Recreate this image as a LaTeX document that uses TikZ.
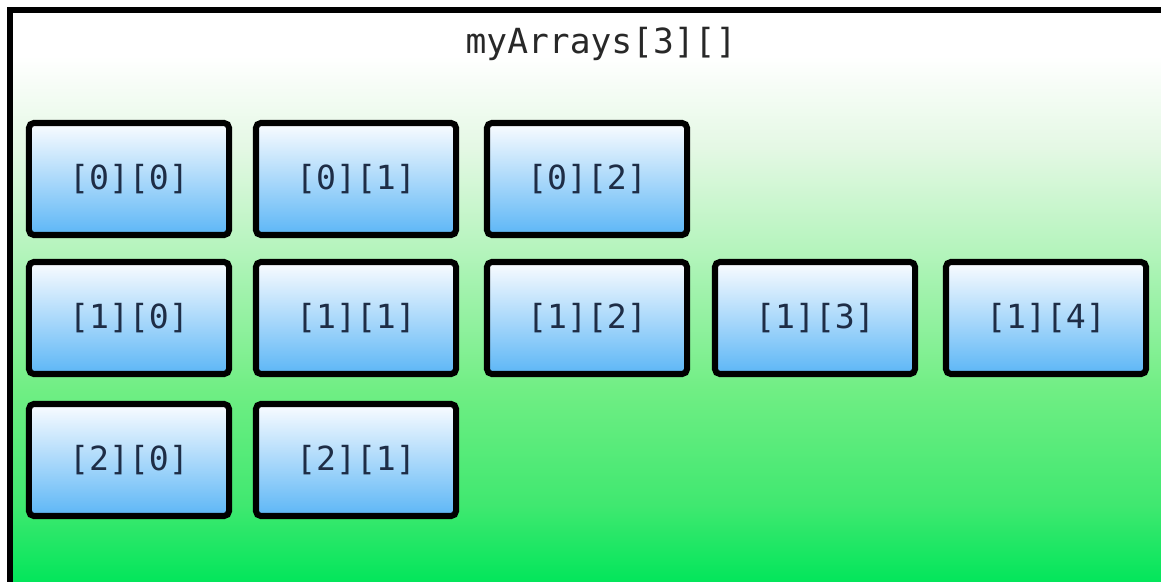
\documentclass[tikz,border=0pt]{standalone}
\usepackage{fontspec}
\setmonofont{DejaVu Sans Mono}
\usepackage{tikz}
\definecolor{cellT}{RGB}{250,252,255}
\definecolor{cellB}{RGB}{92,182,246}
\definecolor{txtC}{RGB}{30,45,70}
\definecolor{ttlC}{RGB}{40,40,40}
\definecolor{g0}{RGB}{0,230,90}
\definecolor{g1}{RGB}{64,232,112}
\definecolor{g2}{RGB}{112,238,132}
\definecolor{g3}{RGB}{180,244,188}
\definecolor{g4}{RGB}{228,248,228}
\pgfdeclareverticalshading{bgfade}{100bp}{color(0bp)=(g0); color(25bp)=(g0);
  color(32bp)=(g1); color(42bp)=(g2); color(54bp)=(g3); color(63bp)=(g4);
  color(71bp)=(white); color(100bp)=(white)}

\begin{document}
\begin{tikzpicture}[
  x=0.025cm, y=-0.025cm,
  cell/.style={draw=black, line width=4.3pt, rounded corners=3.5pt,
               minimum width=5cm, minimum height=2.8cm, inner sep=0pt,
               top color=cellT, bottom color=cellB, text=txtC,
               font=\ttfamily\fontsize{23.6}{28}\selectfont},
  ttl/.style={text=ttlC, font=\ttfamily\fontsize{24.6}{29}\selectfont},
  frame/.style={draw=black, line width=3.6pt, shading=bgfade},
]
\useasboundingbox (0,0) rectangle (1161,582);

% ============ helper coordinates ============
% column x centres
\def\cA{129}\def\cB{356}\def\cC{587}\def\cD{815}\def\cE{1046}
% row y centres
\def\rA{179}\def\rB{318}\def\rC{460}

% ============ outer array ============
\begin{scope}
\clip (0,0) rectangle (1161,582);
\path[frame] (10,10) rectangle (1180,585);
\end{scope}
\node[ttl] (title) at (601,44) {myArrays[3][]};

% ===================== row 0 =====================
\node[cell] (c00) at (\cA,\rA) {[0][0]};
\node[cell] (c01) at (\cB,\rA) {[0][1]};
\node[cell] (c02) at (\cC,\rA) {[0][2]};

% ===================== row 1 =====================
\node[cell] (c10) at (\cA,\rB) {[1][0]};
\node[cell] (c11) at (\cB,\rB) {[1][1]};
\node[cell] (c12) at (\cC,\rB) {[1][2]};
\node[cell] (c13) at (\cD,\rB) {[1][3]};
\node[cell] (c14) at (\cE,\rB) {[1][4]};

% ===================== row 2 =====================
\node[cell] (c20) at (\cA,\rC) {[2][0]};
\node[cell] (c21) at (\cB,\rC) {[2][1]};

\end{tikzpicture}
\end{document}
